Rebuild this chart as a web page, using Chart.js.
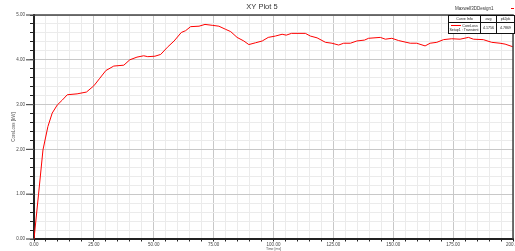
<!DOCTYPE html>
<html>
<head>
<meta charset="utf-8">
<script src="https://cdn.jsdelivr.net/npm/chart.js@4"></script>
<style>
  html, body { margin: 0; padding: 0; background: #fff; }
  #wrap { width: 515px; height: 251px; }
</style>
</head>
<body>
<div id="wrap"><canvas id="chart" width="515" height="251"></canvas></div>
<script>
// Time [ms]
const times = [
  0, 1.9, 3.75, 5.8, 7.6, 9.7, 11.8, 13.9, 18, 21.9, 25, 27.5, 30, 33.3, 37.5,
  40, 43, 45.8, 47.5, 50.5, 52.9, 55.7, 58.5, 61.5, 63.3, 65.4, 68.9, 71.4,
  74.4, 77.2, 80, 82.1, 84.8, 87.6, 89.7, 92.5, 95.3, 97.8, 100.8, 103.6,
  105.3, 107.5, 113.3, 115.4, 118.2, 121.7, 124.4, 127.2, 129.3, 132.1, 134.8,
  138, 139.7, 144.6, 146.7, 149.4, 152.2, 157.1, 159.8, 163.3, 165.4, 168.2,
  171, 174.4, 177.9, 181.4, 183.5, 187.6, 191.1, 194.6, 196.7, 200,
];
// CoreLoss [kW]
const coreLoss = [
  0, 1.0, 1.99, 2.51, 2.81, 2.99, 3.1, 3.22, 3.24, 3.28, 3.42, 3.59, 3.76, 3.86,
  3.88, 4.0, 4.06, 4.09, 4.07, 4.08, 4.12, 4.28, 4.42, 4.61, 4.65, 4.74, 4.75,
  4.79, 4.77, 4.75, 4.68, 4.63, 4.5, 4.42, 4.34, 4.38, 4.42, 4.5, 4.53, 4.57,
  4.55, 4.59, 4.59, 4.53, 4.49, 4.39, 4.37, 4.33, 4.37, 4.37, 4.42, 4.44, 4.48,
  4.5, 4.46, 4.48, 4.43, 4.37, 4.37, 4.31, 4.37, 4.39, 4.45, 4.47, 4.46, 4.5,
  4.46, 4.45, 4.39, 4.37, 4.35, 4.29,
];
const xMajor = 25;
const legendInfo = ["Curve Info", "avg", "pk2pk"];
const legendRow = ["CoreLoss", "Setup1 : Transient", "4.1756", "4.7869"];

const isMajorY = (v) => Math.abs(v - Math.round(v)) < 1e-6;
const isMajorX = (v) => Math.abs(v % xMajor) < 1e-6;

// 제목, 테두리, 범례 표
const decor = {
  id: "decor",
  afterDraw(chart) {
    const c = chart.ctx;
    const a = chart.chartArea;
    const font = (s) => `${s}px "Liberation Sans", Arial, sans-serif`;
    c.save();
    c.textBaseline = "middle";
    c.fillStyle = "#333";
    c.font = font(7.5);
    c.textAlign = "center";
    c.fillText("XY Plot 5", 262, 7);
    c.font = font(4.5);
    c.textAlign = "left";
    c.fillText("Maxwell3DDesign1", 455, 8.5);
    c.fillStyle = "#f00";
    c.fillRect(511, 8, 3, 1);

    // frame
    c.strokeStyle = "#444";
    c.lineWidth = 1.5;
    c.beginPath();
    c.moveTo(a.left, a.top);
    c.lineTo(a.right, a.top);
    c.lineTo(a.right, a.bottom);
    c.stroke();

    // major ticks on y axis
    const y = chart.scales.y;
    c.strokeStyle = "#555";
    c.lineWidth = 1.2;
    y.ticks.forEach((t) => {
      if (!isMajorY(t.value)) return;
      const py = y.getPixelForValue(t.value);
      c.beginPath();
      c.moveTo(a.left - 8, py);
      c.lineTo(a.left, py);
      c.stroke();
    });

    // legend table
    const tx = 448, ty = a.top, cols = [448, 480, 496, 514], h1 = 7, h2 = 11;
    c.fillStyle = "#fff";
    c.fillRect(tx, ty, 514 - tx, h1 + h2);
    c.strokeStyle = "#111";
    c.lineWidth = 1;
    c.strokeRect(tx + 0.5, ty + 0.5, 514 - tx, h1 + h2);
    c.beginPath();
    c.moveTo(tx, ty + h1 + 0.5);
    c.lineTo(514, ty + h1 + 0.5);
    cols.slice(1, 3).forEach((x) => {
      c.moveTo(x + 0.5, ty);
      c.lineTo(x + 0.5, ty + h1 + h2);
    });
    c.stroke();
    c.fillStyle = "#222";
    c.font = font(3.6);
    c.textAlign = "center";
    for (let i = 0; i < 3; i++) {
      c.fillText(legendInfo[i], (cols[i] + cols[i + 1]) / 2 + 0.5, ty + h1 / 2 + 0.5);
    }
    c.fillText(legendRow[0], 470, ty + h1 + 3.5);
    c.fillText(legendRow[1], 464, ty + h1 + 8);
    c.fillText(legendRow[2], 488.5, ty + h1 + 5.5);
    c.fillText(legendRow[3], 505.5, ty + h1 + 5.5);
    c.strokeStyle = "#f00";
    c.lineWidth = 1;
    c.beginPath();
    c.moveTo(451, ty + h1 + 3.5);
    c.lineTo(461, ty + h1 + 3.5);
    c.stroke();
    c.restore();
  },
};

new Chart(document.getElementById("chart").getContext("2d"), {
  type: "line",
  data: {
    datasets: [
      {
        label: "CoreLoss",
        data: times.map((t, i) => ({ x: t, y: coreLoss[i] })),
        borderColor: "#ff0000",
        borderWidth: 1,
        pointRadius: 0,
        tension: 0,
      },
    ],
  },
  options: {
    responsive: false,
    animation: false,
    layout: { padding: { top: 15, right: 2, left: 0, bottom: 0 } },
    plugins: { legend: { display: false }, tooltip: { enabled: false } },
    scales: {
      x: {
        type: "linear",
        min: 0,
        max: 200,
        afterFit(s) {
          s.height = 12;
          s.paddingLeft = 0;
          s.paddingRight = 0;
        },
        ticks: {
          stepSize: 5,
          autoSkip: false,
          maxRotation: 0,
          padding: 1,
          color: "#444",
          font: { size: 4.5, family: "Liberation Sans" },
          callback: (v) => (isMajorX(v) ? v.toFixed(2) : ""),
        },
        grid: {
          color: (ctx) => (ctx.tick && isMajorX(ctx.tick.value) ? "#c8c8c8" : "#ebebeb"),
          tickColor: "#222",
          tickLength: 2.5,
          lineWidth: 1,
        },
        border: { color: "#222", width: 2 },
        title: {
          display: true,
          text: "Time [ms]",
          color: "#555",
          font: { size: 3.5, family: "Liberation Sans" },
          padding: { top: -1, bottom: 0 },
        },
      },
      y: {
        min: 0,
        max: 5,
        afterFit(s) {
          s.width = 34;
        },
        ticks: {
          stepSize: 0.2,
          autoSkip: false,
          padding: 5,
          color: "#444",
          font: { size: 4.5, family: "Liberation Sans" },
          callback: (v) => (isMajorY(v) ? v.toFixed(2) : ""),
        },
        grid: {
          color: (ctx) => (ctx.tick && isMajorY(ctx.tick.value) ? "#c8c8c8" : "#ebebeb"),
          tickColor: "#222",
          tickLength: 4,
          lineWidth: 1,
        },
        border: { color: "#222", width: 2 },
        title: {
          display: true,
          text: "CoreLoss [kW]",
          color: "#555",
          font: { size: 4.5, family: "Liberation Sans" },
          padding: { top: 11, bottom: 0 },
        },
      },
    },
  },
  plugins: [decor],
});
</script>
</body>
</html>
